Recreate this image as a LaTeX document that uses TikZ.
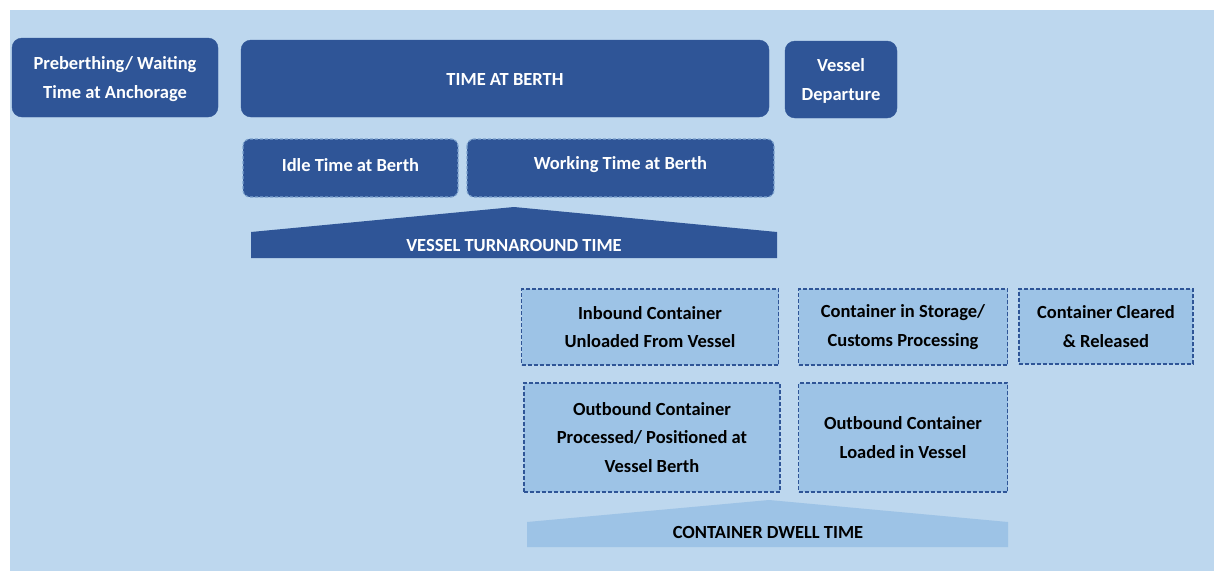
\documentclass[tikz,border=0pt]{standalone}
\usepackage{fontspec}
\setmainfont{Carlito}
\definecolor{navy}{RGB}{47,85,151}
\definecolor{pale}{RGB}{189,215,238}
\definecolor{mid}{RGB}{157,195,230}
\begin{document}
\begin{tikzpicture}[x=1pt,y=-1pt,
  txt/.style={font=\bfseries\fontsize{18.5}{28.5}\selectfont,align=center},
  solidbox/.style={txt,fill=navy,draw=navy,rounded corners=10pt,text=white},
  phasebox/.style={fill=navy,draw=mid!70!navy,dash pattern=on 3pt off 2pt,line width=1.2pt,rounded corners=7pt},
  stepbox/.style={txt,fill=mid,draw=navy,dash pattern=on 4pt off 2pt,line width=1.2pt,text=black},
  label/.style={txt,text=white}]
\useasboundingbox (0,0) rectangle (1214,571);
\fill[pale] (10,10) rectangle (1214,571);
% top row
\path[solidbox] (12,38) rectangle (218,117);
\node[label] (pre) at (115,79) {Preberthing/ Waiting\\Time at Anchorage};
\path[solidbox] (241,40) rectangle (769,117);
\node[label] (berth) at (505,79) {TIME AT BERTH};
\path[solidbox] (785,41) rectangle (897,118);
\node[label] (dep) at (841,81) {Vessel\\Departure};
% berth split
\path[phasebox] (243,139) rectangle (458,197);
\node[label] (idle) at (350.5,165) {Idle Time at Berth};
\path[phasebox] (467,139) rectangle (774,197);
\node[label] (work) at (620.5,165) {Working Time at Berth};
% turnaround banner
\fill[navy] (251,258) -- (251,232) -- (514,207) -- (777,232) -- (777,258) -- cycle;
\node[label] (turn) at (514,245) {VESSEL TURNAROUND TIME};
% container steps
\node[stepbox,minimum width=257pt,minimum height=76pt] (inb) at (650,327) {Inbound Container\\Unloaded From Vessel};
\node[stepbox,minimum width=209pt,minimum height=76pt] (store) at (903,327) {Container in Storage/\\Customs Processing};
\node[stepbox,minimum width=174pt,minimum height=75pt] (clear) at (1106,326.5) {Container Cleared\\\& Released};
\node[stepbox,minimum width=256pt,minimum height=109pt] (outp) at (652,437.5) {Outbound Container\\Processed/ Positioned at\\Vessel Berth};
\node[stepbox,minimum width=209pt,minimum height=109pt] (outl) at (903,437.5) {Outbound Container\\Loaded in Vessel};
% dwell banner
\fill[mid] (527,547) -- (527,522) -- (769,500) -- (1008,522) -- (1008,547) -- cycle;
\node[txt,text=black] (dwell) at (768,532) {CONTAINER DWELL TIME};
\end{tikzpicture}
\end{document}
